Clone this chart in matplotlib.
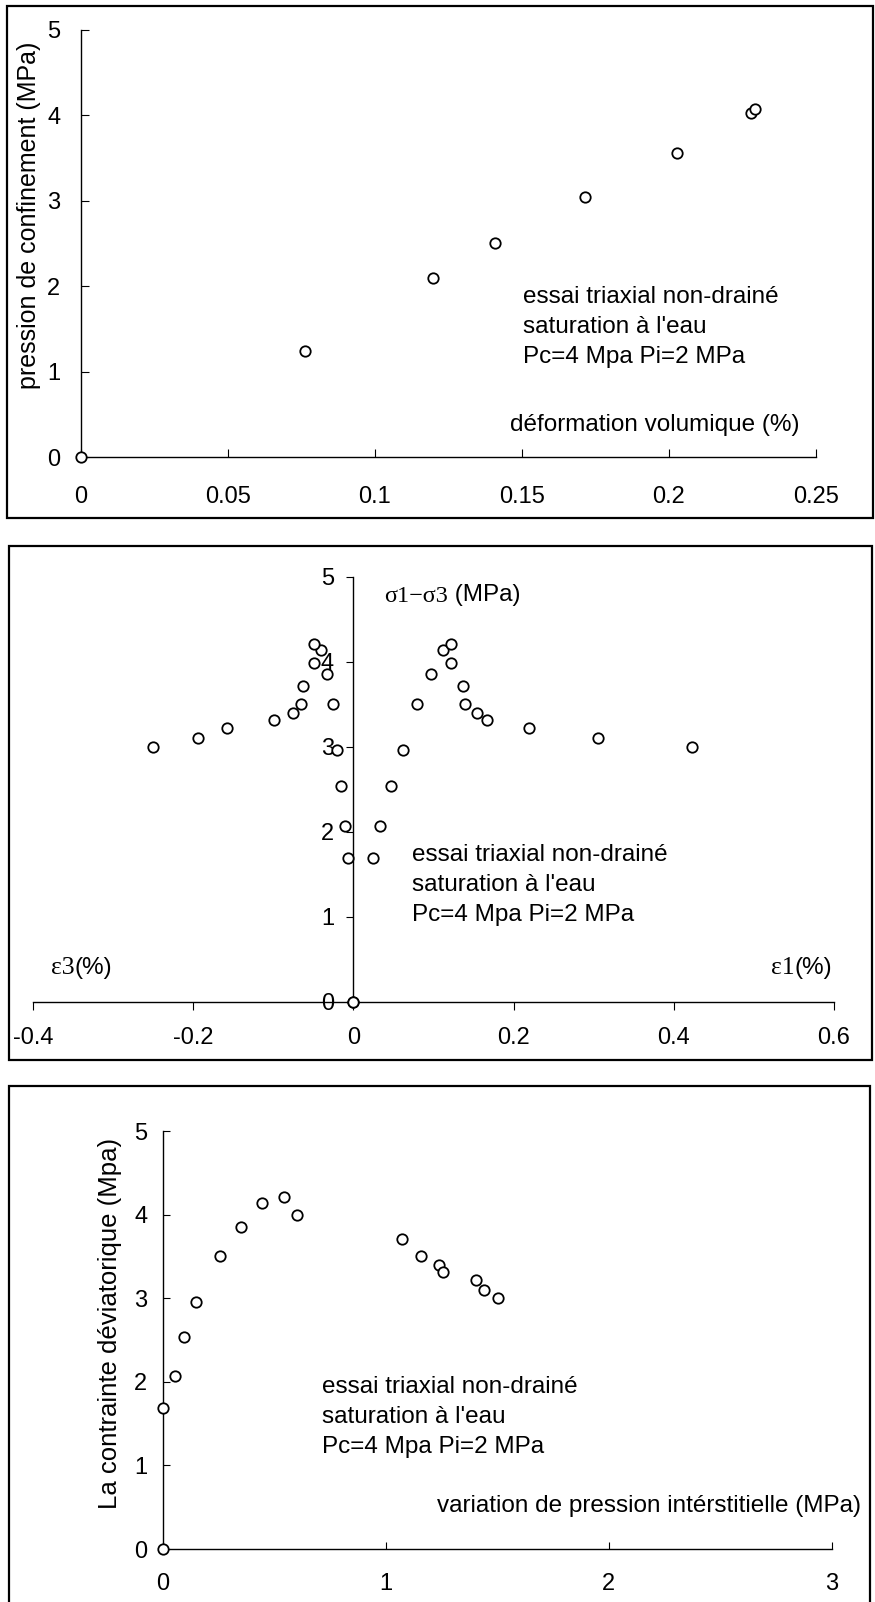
import matplotlib
matplotlib.use("Agg")
import matplotlib.pyplot as plt
from matplotlib.patches import Rectangle

plt.rcParams['font.family'] = ['Liberation Sans', 'DejaVu Sans']

# essai 1 : pression de confinement vs deformation volumique
eps_v = [0, 0.0761, 0.1196, 0.1407, 0.1714, 0.2027, 0.2278, 0.2293]
pc = [0, 1.248, 2.093, 2.512, 3.047, 3.563, 4.026, 4.074]

# deviateur (MPa), commun aux graphes 2 et 3
q = [0, 1.687, 2.067, 2.54, 2.96, 3.50, 3.855, 4.14, 4.205, 3.99,
     3.71, 3.50, 3.40, 3.31, 3.217, 3.10, 3.0]
eps1 = [0, 0.0242, 0.0333, 0.0467, 0.0617, 0.079, 0.0967, 0.1117, 0.1217,
        0.1217, 0.1367, 0.139, 0.154, 0.167, 0.219, 0.306, 0.423]
eps3 = [0, -0.007, -0.0104, -0.0158, -0.0208, -0.026, -0.0325, -0.0408,
        -0.0487, -0.0487, -0.0633, -0.0656, -0.076, -0.099, -0.158, -0.194,
        -0.251]
# variation de pression interstitielle (MPa)
du = [0, 0, 0.053, 0.095, 0.150, 0.258, 0.351, 0.446, 0.546, 0.601,
      1.072, 1.157, 1.237, 1.255, 1.405, 1.442, 1.505]

note = "essai triaxial non-drainé\nsaturation à l'eau\nPc=4 Mpa Pi=2 MPa"

W, H = 875, 1602
fig = plt.figure(figsize=(W / 100, H / 100), dpi=100)


def rect(x0, y0, x1, y1):
    # pixel box (top-left origin) -> figure fraction
    return [x0 / W, 1 - y1 / H, (x1 - x0) / W, (y1 - y0) / H]


def frame(x0, y0, x1, y1):
    fig.patches.append(Rectangle((x0 / W, 1 - y1 / H), (x1 - x0) / W,
                                 (y1 - y0) / H, transform=fig.transFigure,
                                 fill=False, lw=1.6, ec="black"))


def ftext(x, y, s, **kw):
    return fig.text(x / W, 1 - y / H, s, **kw)


def base(ax):
    for s in ["top", "right"]:
        ax.spines[s].set_visible(False)
    for s in ["left", "bottom"]:
        ax.spines[s].set_linewidth(1.0)
    ax.set_ylim(0, 5)
    ax.set_yticks(range(6))


mk = dict(ls="none", marker="o", mfc="white", mec="black", ms=7.5, mew=1.3,
          clip_on=False, zorder=5)
TS = 17
TXT = 17.5
LS = 1.45

# ---- graphe 1
frame(7, 6, 873, 518)
ax1 = fig.add_axes(rect(81, 30, 816, 457.3))
base(ax1)
ax1.set_xlim(0, 0.25)
ax1.set_xticks([0, 0.05, 0.1, 0.15, 0.2, 0.25])
ax1.set_xticklabels(["0", "0.05", "0.1", "0.15", "0.2", "0.25"])
ax1.tick_params(axis="x", direction="in", length=6, width=0.8, pad=21, labelsize=TS)
ax1.tick_params(axis="y", direction="in", length=6, width=0.8, pad=15, labelsize=TS)
ax1.plot(eps_v, pc, **mk)
ftext(29, 215, "pression de confinement (MPa)", rotation=90, fontsize=18,
      ha="center", va="center")
ftext(523, 327, note, fontsize=TXT, ha="left", va="center", linespacing=LS)
ftext(510, 425, "déformation volumique (%)", fontsize=TXT, ha="left", va="center")

# ---- graphe 2
frame(9, 545.7, 871.7, 1060)
ax2 = fig.add_axes(rect(33.3, 576.7, 833.7, 1001.7))
base(ax2)
ax2.set_xlim(-0.4, 0.6)
ax2.spines["left"].set_position(("data", 0))
ax2.set_xticks([-0.4, -0.2, 0, 0.2, 0.4, 0.6])
ax2.set_xticklabels(["-0.4", "-0.2", "0", "0.2", "0.4", "0.6"])
ax2.tick_params(axis="x", direction="out", length=5.5, width=0.8, pad=13, labelsize=TS)
ax2.tick_params(axis="y", direction="out", length=5, width=0.8, pad=9, labelsize=TS)
ax2.plot(eps1, q, **mk)
ax2.plot(eps3, q, **mk)
t = ftext(384, 596, "σ1−σ3", family="Liberation Serif", fontsize=TXT,
          ha="left", va="center")
ax2.annotate(" (MPa)", xy=(1, 0), xycoords=t, va="bottom", ha="left",
             fontsize=TXT)
ftext(412, 885, note, fontsize=TXT, ha="left", va="center", linespacing=LS)
e3 = ftext(51, 968, "ε3", family="Liberation Serif", fontsize=TXT + 1,
           ha="left", va="center")
ax2.annotate("(%)", xy=(1, 0), xycoords=e3, va="bottom", ha="left", fontsize=TXT)
e1 = ftext(771, 968, "ε1", family="Liberation Serif", fontsize=TXT + 1,
           ha="left", va="center")
ax2.annotate("(%)", xy=(1, 0), xycoords=e1, va="bottom", ha="left", fontsize=TXT)

# ---- graphe 3
frame(9, 1085.7, 870, 1640)
ax3 = fig.add_axes(rect(162.7, 1131, 831.7, 1549))
base(ax3)
ax3.set_xlim(0, 3)
ax3.set_xticks([0, 1, 2, 3])
ax3.tick_params(axis="x", direction="in", length=5, width=0.8, pad=17, labelsize=TS)
ax3.tick_params(axis="y", direction="in", length=5, width=0.8, pad=11, labelsize=TS)
ax3.plot(du, q, **mk)
ftext(110, 1323, "La contrainte déviatorique (Mpa)", rotation=90, fontsize=18.5,
      ha="center", va="center")
ftext(322, 1417, note, fontsize=TXT, ha="left", va="center", linespacing=LS)
ftext(437, 1506, "variation de pression intérstitielle (MPa)", fontsize=TXT,
      ha="left", va="center")

fig.savefig("out.png", dpi=100)
